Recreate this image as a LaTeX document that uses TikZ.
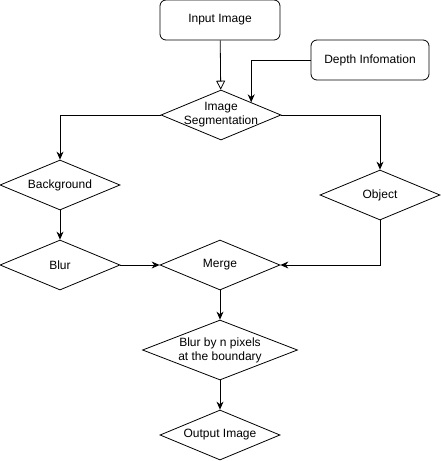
\documentclass[tikz,border=0pt]{standalone}
\usepackage{fontspec}
\setmainfont{Liberation Sans}
\usetikzlibrary{shapes.geometric, arrows.meta, positioning}

\begin{document}
\begin{tikzpicture}[
    x=1pt, y=-1pt,
    font=\fontsize{12}{14}\selectfont,
    line width=0.8pt,
    process/.style={rectangle, rounded corners=6pt, draw, align=center, minimum width=120, minimum height=40},
    decision/.style={diamond, draw, inner sep=0pt, minimum width=120, minimum height=50},
    every label/.style={align=center, inner sep=0pt},
    arr/.style={-{Stealth[length=8pt, width=7pt]}},
    openarr/.style={-{Triangle[open, length=9pt, width=9pt, fill=white]}}
]
\useasboundingbox (0,0) rectangle (441,461);

% Inputs
\node (input) [process] at (220,20) {Input Image};
\node (depth) [process, minimum width=118] at (370,60) {Depth Infomation};

% Segmentation
\node (seg) [decision, label={center:Image\\Segmentation}] at (221,115) {};

% Two branches
\node (bg) [decision, label={center:Background}] at (60,185) {};
\node (obj) [decision, label={center:Object}] at (380,195) {};
\node (blur) [decision, label={center:Blur}] at (60,265) {};
\node (merge) [decision, label={center:Merge}] at (220,265) {};

% Last steps
\node (bnd) [decision, minimum width=155, minimum height=60, label={center:Blur by n pixels\\at the boundary}] at (220,350) {};
\node (output) [decision, label={center:Output Image}] at (220,435) {};

% Connections
\draw[openarr] (input) -- (seg);
\draw[arr] (depth.west) -| (seg.north east);
\draw[arr] (seg.west) -| (bg.north);
\draw[arr] (seg.east) -| (obj.north);
\draw[arr] (bg) -- (blur);
\draw[arr] (blur) -- (merge);
\draw[arr] (obj.south) |- (merge.east);
\draw[arr] (merge) -- (bnd);
\draw[arr] (bnd) -- (output);

\end{tikzpicture}
\end{document}
